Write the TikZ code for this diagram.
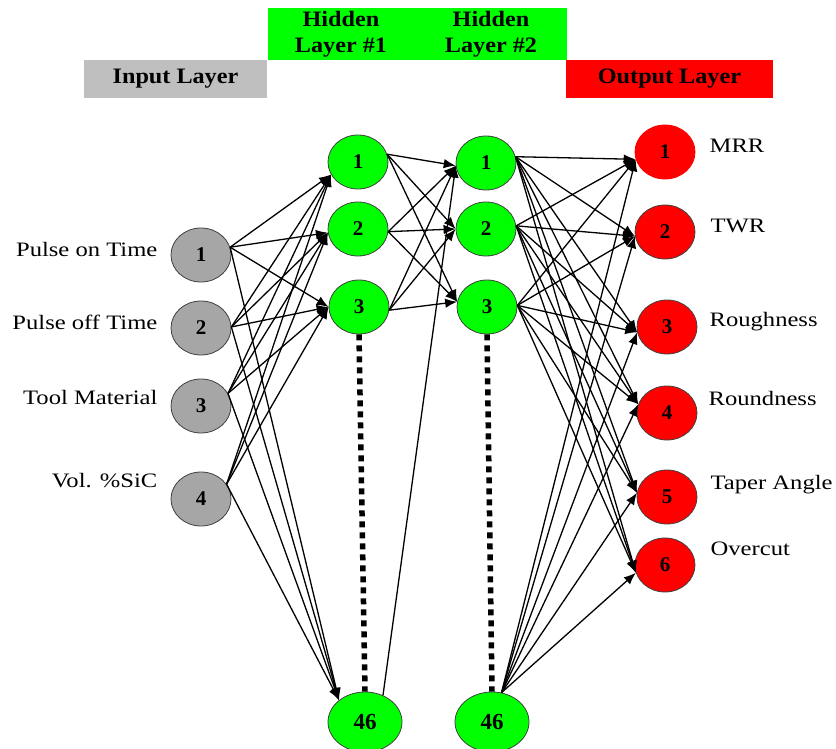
\documentclass[tikz,border=0pt]{standalone}
\usepackage{fontspec}
\setmainfont{Liberation Serif}
\newfontfamily\widefont{Liberation Serif}[FakeStretch=1.2]
\newfontfamily\hdrfont{Liberation Serif}[FakeStretch=1.1]
\usepackage{xcolor}
\usepackage{tikz}
\usetikzlibrary{arrows.meta,shapes.geometric}
\definecolor{hdrgray}{RGB}{191,191,191}
\definecolor{nodegray}{RGB}{166,166,166}

\begin{document}
\begin{tikzpicture}[x=1pt,y=-1pt,->,>={Latex[length=12pt,width=9.5pt]},line width=1.3pt]
 \tikzstyle{neuron}=[draw=black!75, line width=0.8pt, ellipse, inner sep=0pt, minimum width=60pt, minimum height=54pt, font=\fontsize{21}{21}\selectfont\bfseries]
 \tikzstyle{innode}=[neuron, fill=nodegray]
 \tikzstyle{hidnode}=[neuron, fill=green]
 \tikzstyle{bignode}=[hidnode, minimum width=74pt, minimum height=60pt, font=\fontsize{23}{23}\selectfont\bfseries]
 \tikzstyle{outnode}=[neuron, fill=red]
 \tikzstyle{lab}=[inner sep=0pt, font=\widefont\fontsize{20.5}{20.5}\selectfont]
 \tikzstyle{layerbox}=[inner sep=0pt, align=center, font=\hdrfont\bfseries\fontsize{22}{26}\selectfont]
 \tikzstyle{dots}=[-, line width=5.5pt, dash pattern=on 6pt off 5pt]
 \useasboundingbox (0,0) rectangle (836,749);

 % layer headers
 \node[layerbox, fill=hdrgray, minimum width=183pt, minimum height=38pt] (inlayer) at (175.5,79) {Input Layer};
 \node[fill=green, inner sep=0pt, minimum width=299pt, minimum height=52pt] (hidlayer) at (417.5,34) {};
 \node[layerbox] (hid1) at (341,34) {Hidden\\Layer \#1};
 \node[layerbox] (hid2) at (491,34) {Hidden\\Layer \#2};
 \node[layerbox, fill=red, minimum width=207pt, minimum height=38pt] (outlayer) at (669.5,79) {Output Layer};

 % input layer
 \node[innode] (i1) at (201,255) {1};
 \node[innode] (i2) at (201,328) {2};
 \node[innode] (i3) at (201,406) {3};
 \node[innode] (i4) at (201,499) {4};
 \node[lab, anchor=mid east] (l1) at (158,254) {Pulse on Time};
 \node[lab, anchor=mid east] (l2) at (158,327) {Pulse off Time};
 \node[lab, anchor=mid east] (l3) at (158,402) {Tool Material};
 \node[lab, anchor=mid east] (l4) at (158,485) {Vol. \%SiC};

 % hidden layers
 \node[hidnode] (h11) at (358,162) {1};
 \node[hidnode] (h12) at (358,229) {2};
 \node[hidnode] (h13) at (359,307) {3};
 \node[bignode] (h146) at (365,722) {46};
 \node[hidnode] (h21) at (486,163) {1};
 \node[hidnode] (h22) at (486,229) {2};
 \node[hidnode] (h23) at (487,307) {3};
 \node[bignode] (h246) at (492,722) {46};

 % output layer
 \node[outnode, draw=red] (o1) at (665,152) {1};
 \node[outnode] (o2) at (665,232) {2};
 \node[outnode] (o3) at (667,327) {3};
 \node[outnode] (o4) at (667,413) {4};
 \node[outnode] (o5) at (667,497) {5};
 \node[outnode] (o6) at (665,565) {6};
 \node[lab, anchor=mid west] (m1) at (709,150) {MRR};
 \node[lab, anchor=mid west] (m2) at (710,230) {TWR};
 \node[lab, anchor=mid west] (m3) at (709,324) {Roughness};
 \node[lab, anchor=mid west] (m4) at (708,403) {Roundness};
 \node[lab, anchor=mid west] (m5) at (710,487) {Taper Angle};
 \node[lab, anchor=mid west] (m6) at (710,553) {Overcut};

 \draw[dots] (h13.south) -- (h146.north);
 \draw[dots] (h23.south) -- (h246.north);

 \path
   (i1.15) edge (h11.205) edge (h12.187) edge (h13.180) edge (h146.140)
   (i2.2)  edge (h11.205) edge (h12.187) edge (h13.180) edge (h146.140)
   (i3.25) edge (h11.205) edge (h12.187) edge (h13.180) edge (h146.140)
   (i4.30) edge (h11.205) edge (h12.187) edge (h13.180) edge (h146.140);
 \path
   (h11.15)  edge (h21.185) edge (h22.180) edge (h23.170)
   (h12.355) edge (h21.185) edge (h22.180) edge (h23.170)
   (h13.354) edge (h21.185) edge (h22.180) edge (h23.170)
   (h146.56) edge (h21.185);
 \path
   (h21.12) edge (o1.194) edge (o2.188) edge (o3.190) edge (o4.163) edge (o5.172) edge (o6.195)
   (h22.6)  edge (o1.194) edge (o2.188) edge (o3.190) edge (o4.163) edge (o5.172) edge (o6.195)
   (h23.3)  edge (o1.194) edge (o2.188) edge (o3.190) edge (o4.163) edge (o5.172) edge (o6.195)
   (h246.72) edge (o1.194) edge (o2.188) edge (o3.190) edge (o4.163) edge (o5.172) edge (o6.195);
\end{tikzpicture}
\end{document}
